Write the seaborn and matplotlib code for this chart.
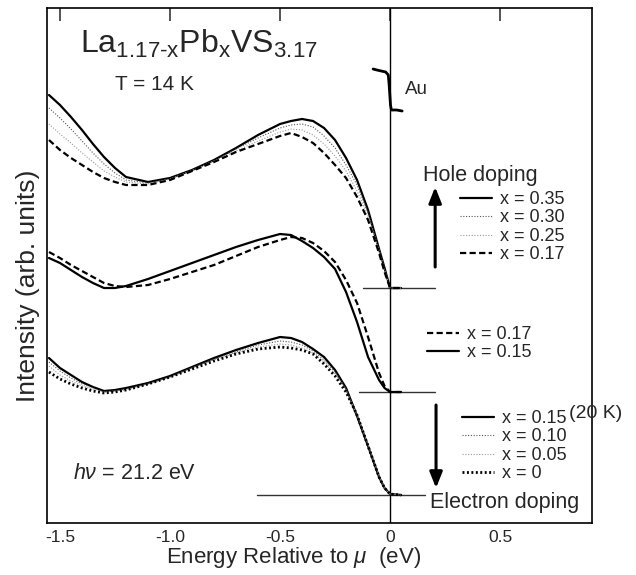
import matplotlib
matplotlib.use("Agg")
import matplotlib.pyplot as plt
import seaborn as sns
import numpy as np

# energy grid the curves were read on (eV, relative to mu)
energy = [-1.55, -1.5, -1.45, -1.4, -1.35, -1.3, -1.25, -1.2, -1.1, -1.0, -0.9,
          -0.8, -0.7, -0.6, -0.5, -0.45, -0.4, -0.35, -0.3, -0.25, -0.2, -0.15,
          -0.1, -0.05, -0.025, 0.0, 0.05]

# hole doping set (top), intensity above its own baseline
top_offset = 2.35
hole_035 = [1.93, 1.83, 1.71, 1.58, 1.44, 1.31, 1.20, 1.11, 1.06, 1.10, 1.18,
            1.28, 1.40, 1.53, 1.64, 1.67, 1.69, 1.67, 1.60, 1.48, 1.30, 1.08,
            0.78, 0.39, 0.20, 0.0, 0.0]
hole_030 = [1.80, 1.70, 1.59, 1.47, 1.35, 1.24, 1.15, 1.08, 1.05, 1.09, 1.18,
            1.27, 1.39, 1.50, 1.60, 1.63, 1.64, 1.61, 1.52, 1.40, 1.23, 1.03,
            0.75, 0.38, 0.19, 0.0, 0.0]
hole_025 = [1.64, 1.54, 1.45, 1.35, 1.26, 1.17, 1.11, 1.06, 1.04, 1.09, 1.17,
            1.27, 1.37, 1.47, 1.56, 1.59, 1.58, 1.53, 1.44, 1.32, 1.17, 0.97,
            0.72, 0.37, 0.18, 0.0, 0.0]
hole_017 = [1.48, 1.38, 1.30, 1.23, 1.16, 1.10, 1.06, 1.03, 1.03, 1.08, 1.17,
            1.26, 1.36, 1.44, 1.52, 1.55, 1.51, 1.45, 1.35, 1.23, 1.10, 0.91,
            0.68, 0.35, 0.16, 0.0, 0.0]

# middle set
mid_offset = 1.31
mid_017 = [1.40, 1.34, 1.27, 1.21, 1.15, 1.09, 1.06, 1.05, 1.07, 1.13, 1.20,
           1.27, 1.36, 1.45, 1.52, 1.55, 1.54, 1.49, 1.41, 1.30, 1.12, 0.89,
           0.55, 0.19, 0.06, 0.0, 0.0]
mid_015 = [1.34, 1.29, 1.22, 1.15, 1.09, 1.04, 1.04, 1.06, 1.13, 1.21, 1.29,
           1.37, 1.45, 1.52, 1.58, 1.57, 1.51, 1.44, 1.35, 1.23, 1.00, 0.70,
           0.35, 0.12, 0.04, 0.0, 0.0]

# electron doping set (bottom)
bot_offset = 0.28
elec_015 = [1.37, 1.27, 1.20, 1.13, 1.08, 1.04, 1.05, 1.07, 1.12, 1.19, 1.28,
            1.37, 1.45, 1.52, 1.58, 1.57, 1.53, 1.46, 1.38, 1.25, 1.07, 0.79,
            0.49, 0.18, 0.07, 0.01, 0.0]
elec_010 = [1.33, 1.24, 1.17, 1.11, 1.07, 1.03, 1.04, 1.06, 1.11, 1.18, 1.27,
            1.36, 1.43, 1.50, 1.54, 1.53, 1.50, 1.44, 1.35, 1.23, 1.06, 0.80,
            0.50, 0.19, 0.07, 0.01, 0.0]
elec_005 = [1.29, 1.20, 1.14, 1.09, 1.06, 1.03, 1.04, 1.05, 1.11, 1.18, 1.27,
            1.35, 1.42, 1.48, 1.51, 1.50, 1.47, 1.42, 1.33, 1.21, 1.05, 0.80,
            0.50, 0.19, 0.07, 0.01, 0.0]
elec_000 = [1.23, 1.16, 1.11, 1.07, 1.04, 1.02, 1.03, 1.05, 1.11, 1.18, 1.26,
            1.34, 1.41, 1.46, 1.48, 1.47, 1.45, 1.41, 1.31, 1.19, 1.03, 0.80,
            0.49, 0.18, 0.07, 0.01, 0.0]

# Au Fermi edge reference
au_energy = [-0.077, -0.06, -0.04, -0.02, -0.008, -0.004, -0.001, 0.002, 0.006, 0.03, 0.055]
au_int = [4.54, 4.53, 4.52, 4.51, 4.48, 4.38, 4.28, 4.18, 4.13, 4.13, 4.12]

# extents of the baselines drawn under each set
top_base = [-0.123, 0.205]
mid_base = [-0.14, 0.205]
bot_base = [-0.605, 0.16]

xticks = [-1.5, -1.0, -0.5, 0.0, 0.5]
xticklabels = ["-1.5", "-1.0", "-0.5", "0", "0.5"]

sns.set_style("white")
plt.rcParams["font.family"] = ["Liberation Sans", "DejaVu Sans"]
plt.rcParams["mathtext.fontset"] = "custom"
plt.rcParams["mathtext.rm"] = "Liberation Sans"
plt.rcParams["mathtext.it"] = "Liberation Sans:italic"

fig = plt.figure(figsize=(6.36, 5.75), dpi=100)
ax = fig.add_axes([0.0739, 0.0904, 0.857, 0.8957])

solid = dict(color="black", linewidth=1.6, linestyle="-")
dashed = dict(color="black", linewidth=1.6, linestyle=(0, (2.8, 1.5)))
dot_dark = dict(color="#555555", linewidth=0.8, linestyle=(0, (1, 1.5)))
dot_light = dict(color="#9a9a9a", linewidth=0.8, linestyle=(0, (1, 1.5)))
dot_thick = dict(color="black", linewidth=2.0, linestyle=(0, (0.7, 0.9)))


def draw(vals, offset, style):
    sns.lineplot(x=energy, y=np.array(vals) + offset, ax=ax,
                 estimator=None, sort=False, **style)
    return ax.lines[-1]


# baselines and mu line
for ext, off in [(top_base, top_offset), (mid_base, mid_offset), (bot_base, bot_offset)]:
    ax.plot(ext, [off, off], color="#333333", lw=1.0)
ax.axvline(0, color="black", lw=1.0)

h_top = [draw(hole_035, top_offset, solid),
         draw(hole_030, top_offset, dot_dark),
         draw(hole_025, top_offset, dot_light),
         draw(hole_017, top_offset, dashed)]
h_mid = [draw(mid_017, mid_offset, dashed),
         draw(mid_015, mid_offset, solid)]
h_bot = [draw(elec_015, bot_offset, solid),
         draw(elec_010, bot_offset, dot_dark),
         draw(elec_005, bot_offset, dot_light),
         draw(elec_000, bot_offset, dot_thick)]

sns.lineplot(x=au_energy, y=au_int, ax=ax, estimator=None, sort=False,
             color="black", linewidth=2.0)

ax.set_xlim(-1.559, 0.918)
ax.set_ylim(0, 5.15)
ax.set_yticks([])
ax.set_xticks(xticks)
ax.set_xticklabels(xticklabels, fontsize=12.5)
ax.tick_params(axis="x", direction="in", length=9, width=1.1, top=True, pad=5)
for s in ax.spines.values():
    s.set_linewidth(1.2)
    s.set_color("black")

ax.set_xlabel(r"Energy Relative to $\mu$  (eV)", fontsize=16)
ax.xaxis.set_label_coords(0.453, -0.043)
ax.set_ylabel("Intensity (arb. units)", fontsize=19)
ax.yaxis.set_label_coords(-0.012, 0.46)

# annotations
ax.text(-1.409, 4.70, "La$_{\\mathregular{1.17\u2010x}}$Pb$_{\\mathregular{x}}$VS$_{\\mathregular{3.17}}$",
        fontsize=23, va="baseline")
ax.text(-1.25, 4.38, "T = 14 K", fontsize=15, va="center")
ax.text(-1.441, 0.50, r"$h\nu$ = 21.2 eV", fontsize=15.5, va="center")
ax.text(0.068, 4.33, "Au", fontsize=13.5, va="center")
ax.text(0.15, 3.48, "Hole doping", fontsize=15.5, va="center")
ax.text(0.182, 0.21, "Electron doping", fontsize=15.5, va="center")
ax.text(0.815, 1.10, "(20 K)", fontsize=14, va="center", clip_on=False)

arrow = dict(arrowstyle="-|>,head_length=0.5,head_width=0.2", lw=2.2,
             color="black", mutation_scale=19, shrinkA=0, shrinkB=0)
ax.annotate("", xy=(0.205, 3.36), xytext=(0.205, 2.56), arrowprops=arrow)
ax.annotate("", xy=(0.209, 0.35), xytext=(0.209, 1.18), arrowprops=arrow)

leg_kw = dict(loc="upper left", frameon=False, fontsize=13, handlelength=1.75,
              handletextpad=0.45, labelspacing=0.08, borderpad=0, borderaxespad=0,
              bbox_transform=ax.transData)
leg1 = ax.legend(h_top, ["x = 0.35", "x = 0.30", "x = 0.25", "x = 0.17"],
                 bbox_to_anchor=(0.318, 3.32), **leg_kw)
ax.add_artist(leg1)
leg2 = ax.legend(h_mid, ["x = 0.17", "x = 0.15"],
                 bbox_to_anchor=(0.168, 1.97), **leg_kw)
ax.add_artist(leg2)
ax.legend(h_bot, ["x = 0.15", "x = 0.10", "x = 0.05", "x = 0"],
          bbox_to_anchor=(0.327, 1.13), **leg_kw)

fig.savefig("out.png", dpi=100)
